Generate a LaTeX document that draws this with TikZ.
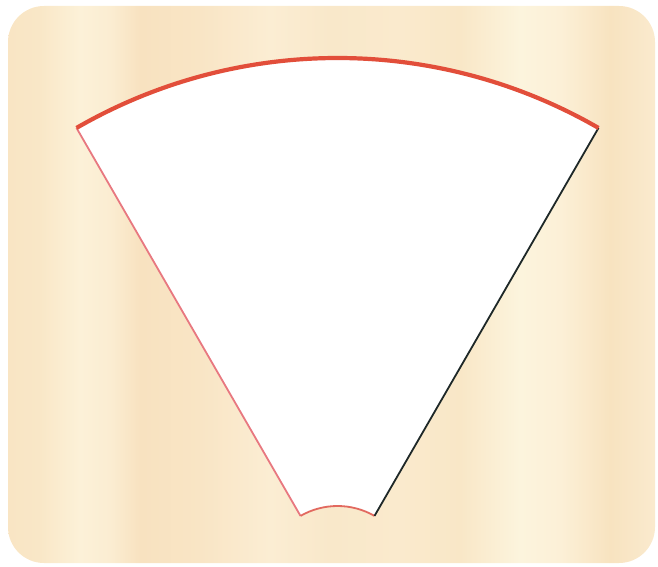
\documentclass[tikz,border=0pt]{standalone}
\definecolor{wa}{RGB}{249,229,196}
\definecolor{wb}{RGB}{249,231,199}
\definecolor{wc}{RGB}{252,241,216}
\definecolor{wd}{RGB}{251,237,210}
\definecolor{we}{RGB}{248,226,192}
\definecolor{wf}{RGB}{249,229,197}
\definecolor{wg}{RGB}{251,237,211}
\definecolor{wh}{RGB}{249,232,202}
\definecolor{wi}{RGB}{250,234,205}
\definecolor{wj}{RGB}{249,231,199}
\definecolor{wk}{RGB}{252,244,221}
\definecolor{wl}{RGB}{252,240,215}
\definecolor{wm}{RGB}{248,227,192}
\definecolor{wn}{RGB}{250,234,206}
\definecolor{arcred}{RGB}{226,78,58}
\definecolor{edgepink}{RGB}{232,120,128}
\definecolor{innerred}{RGB}{226,105,95}
\definecolor{edgedark}{RGB}{30,40,40}
\pgfdeclarehorizontalshading{wood}{100bp}{color(0bp)=(wa); color(25bp)=(wa); color(27.47bp)=(wb); color(30.56bp)=(wc); color(32.88bp)=(wd); color(35.2bp)=(we); color(39.84bp)=(wf); color(45.25bp)=(wg); color(49.88bp)=(wh); color(55.29bp)=(wi); color(59.93bp)=(wj); color(64.57bp)=(wk); color(67.66bp)=(wl); color(71.52bp)=(wm); color(75bp)=(wn); color(100bp)=(wn)}
\tikzset{
  outerarc/.style={draw=arcred, line width=4.2pt},
  leftedge/.style={draw=edgepink, line width=1.8pt},
  rightedge/.style={draw=edgedark, line width=1.8pt},
  innerarc/.style={draw=innerred, line width=1.8pt},
}
\begin{document}
\begin{tikzpicture}[x=1pt,y=1pt]
\useasboundingbox (0,0) rectangle (658,566);
\shade[shading=wood, rounded corners=36pt] (8,3) rectangle (655,560);
\coordinate (C) at (337.5,-14);
\coordinate (OL) at ([shift={(120:522pt)}]C);
\coordinate (OR) at ([shift={(60:522pt)}]C);
\coordinate (IL) at ([shift={(120:74pt)}]C);
\coordinate (IR) at ([shift={(60:74pt)}]C);
\fill[white] (OL) arc[start angle=120, end angle=60, radius=522pt] -- (IR) arc[start angle=60, end angle=120, radius=74pt] -- cycle;
\draw[leftedge] (IL) -- (OL);
\draw[innerarc] (IR) arc[start angle=60, end angle=120, radius=74pt];
\draw[rightedge] (OR) -- (IR);
\draw[outerarc] (OL) arc[start angle=120, end angle=60, radius=522pt];
\end{tikzpicture}
\end{document}
